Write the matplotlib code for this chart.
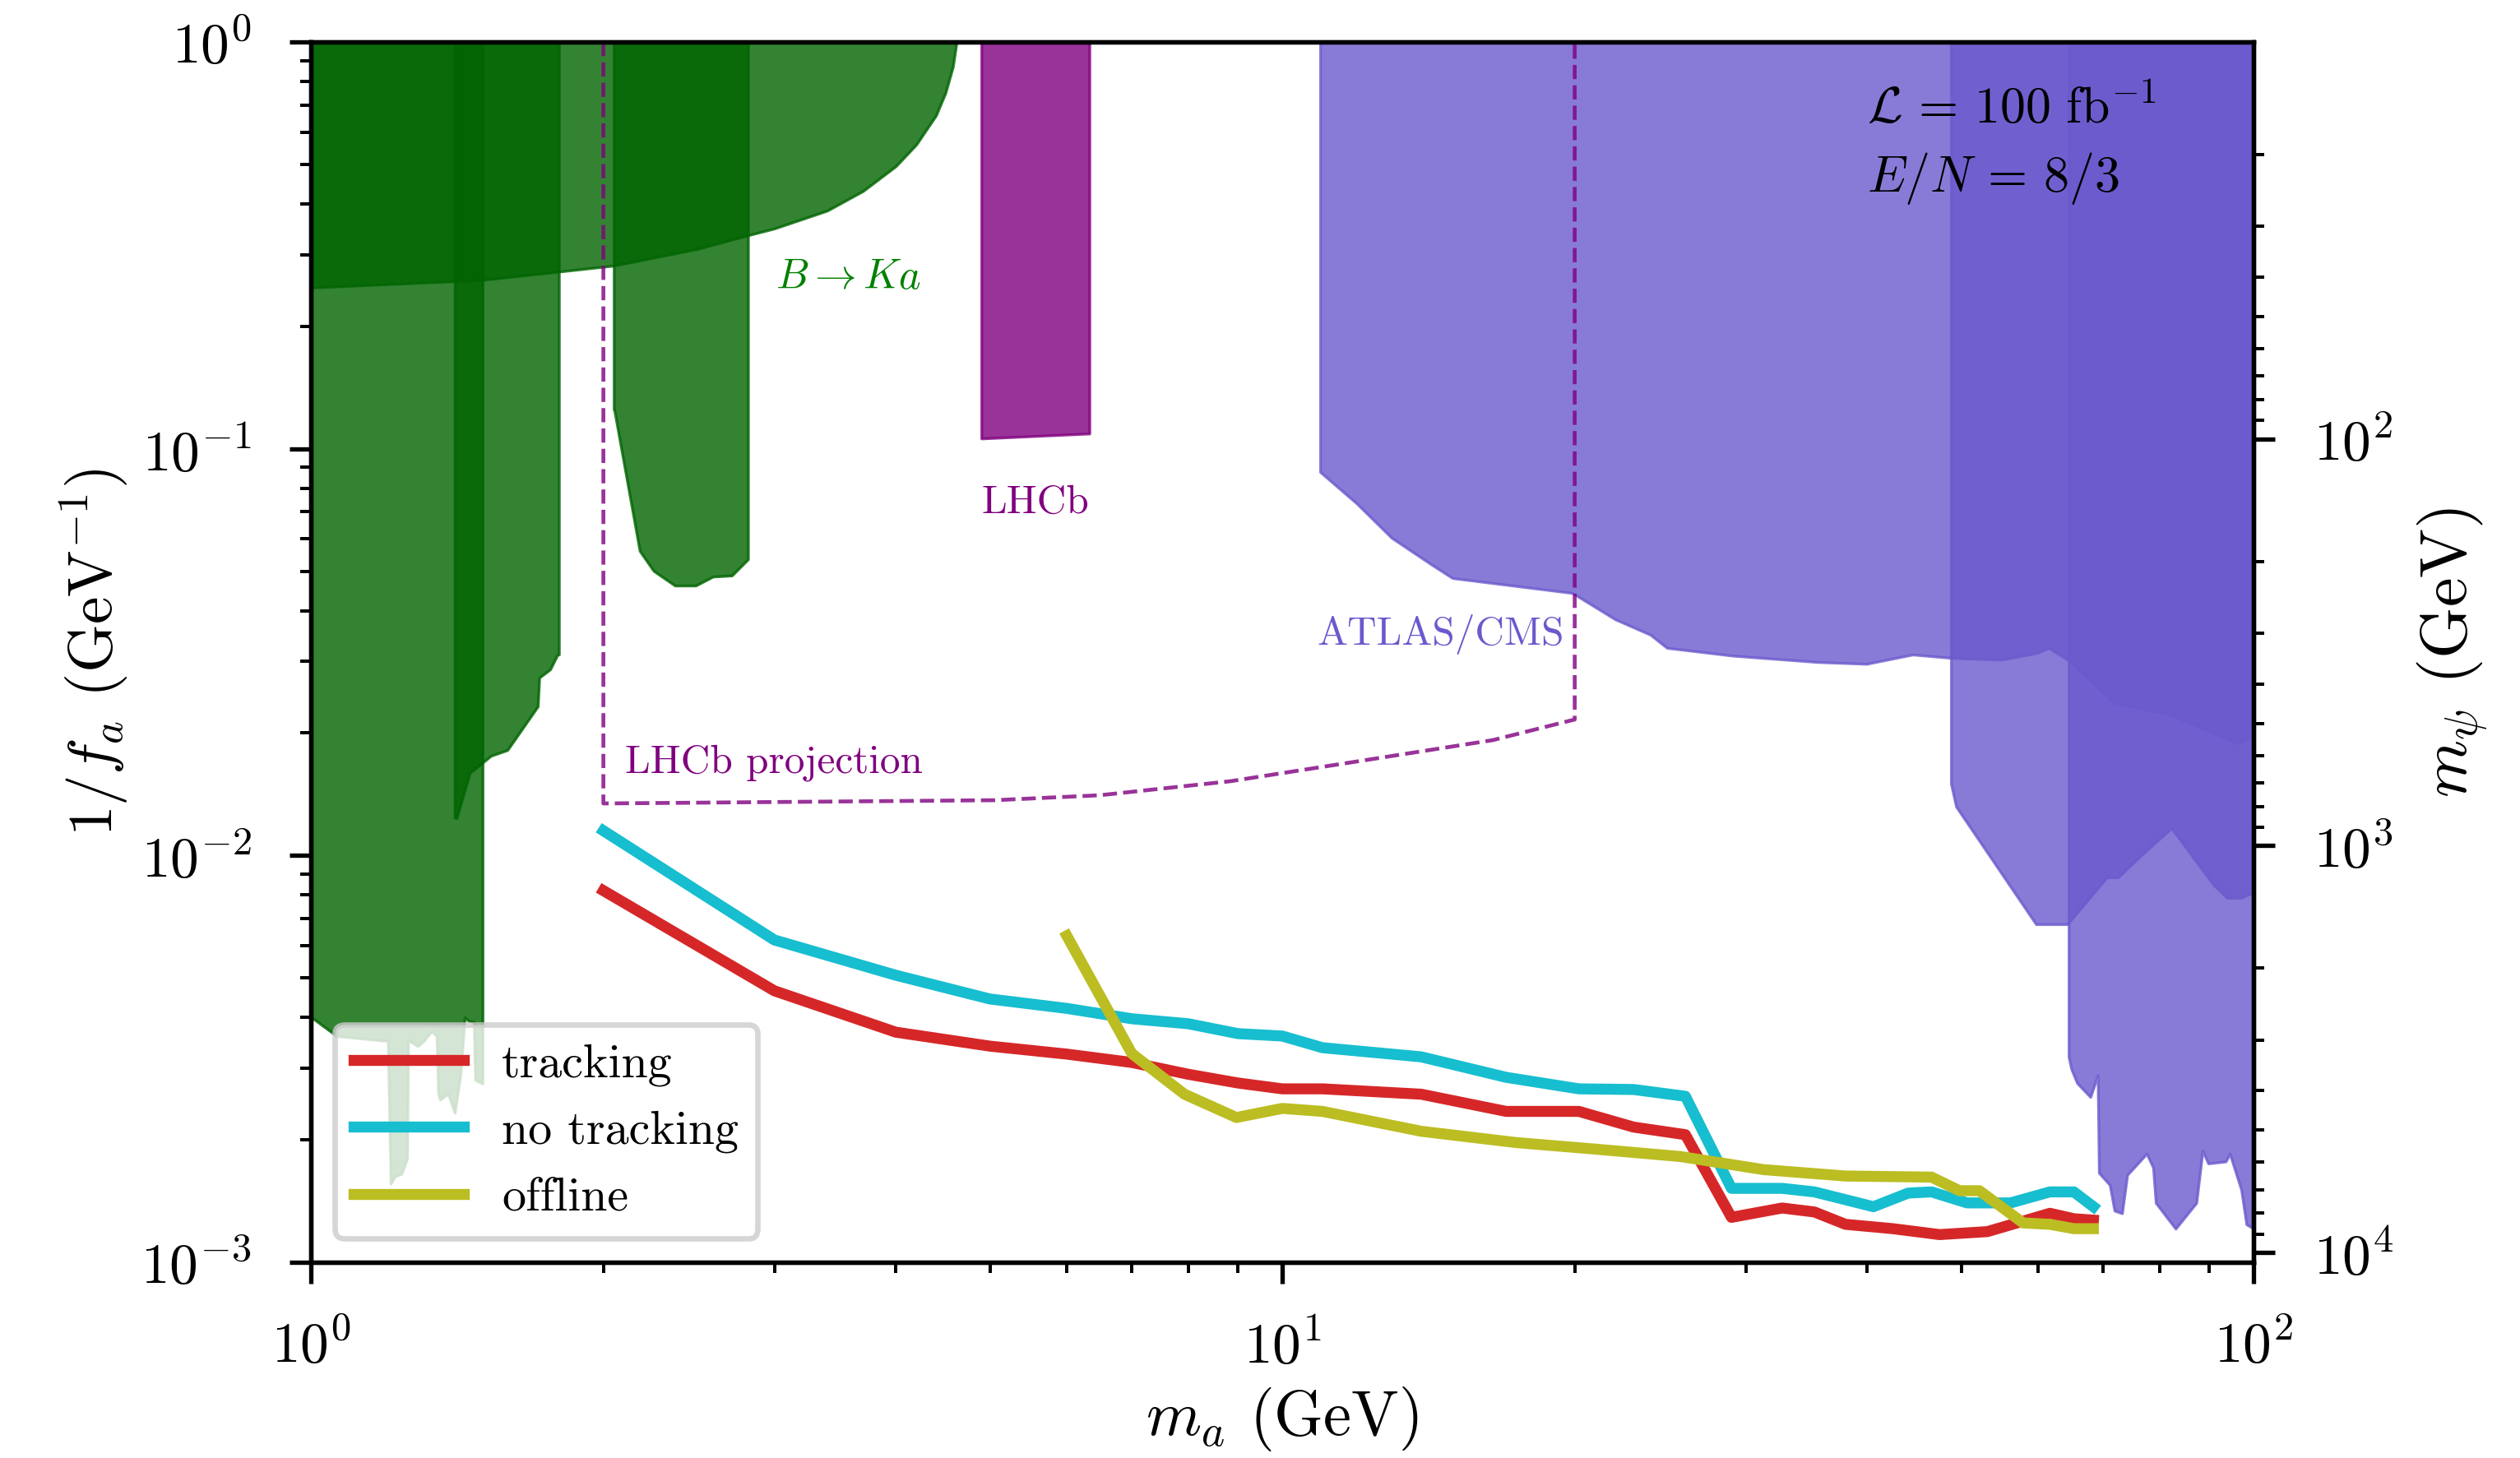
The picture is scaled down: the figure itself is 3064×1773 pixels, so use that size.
import numpy as np
import matplotlib
matplotlib.use("Agg")
import matplotlib.pyplot as plt

plt.rcParams.update({
    "font.family": "serif",
    "font.serif": ["cmr10", "DejaVu Serif"],
    "mathtext.fontset": "cm",
    "axes.formatter.use_mathtext": True,
    "axes.unicode_minus": False,
    "axes.linewidth": 0.8,
})

# ---- excluded regions (x = m_a in GeV, lower edge of 1/f_a) ----
bka_x = [1.0, 1.5, 2.05, 2.5, 2.82, 3.0, 3.4, 3.7, 4.0, 4.2, 4.4, 4.5, 4.58, 4.62]
bka_y = [0.249, 0.260, 0.282, 0.310, 0.335, 0.348, 0.385, 0.43, 0.495, 0.56, 0.66, 0.75, 0.87, 1.0]

grnA_x = [1.0, 1.063, 1.20, 1.208, 1.215, 1.222, 1.239, 1.256, 1.259, 1.288, 1.306,
          1.331, 1.347, 1.352, 1.358, 1.384, 1.406, 1.425, 1.44, 1.453, 1.471, 1.476, 1.502]
grnA_y = [0.00401, 0.0036, 0.0035, 0.00156, 0.0016, 0.00163, 0.00165, 0.0018, 0.00352, 0.0034, 0.0035,
          0.0037, 0.0036, 0.0026, 0.00251, 0.0026, 0.00233, 0.00289, 0.0040, 0.00392, 0.0039, 0.00281, 0.00275]

grnB_x = [1.406, 1.412, 1.457, 1.532, 1.593, 1.712, 1.718, 1.763, 1.794, 1.80]
grnB_y = [0.0124, 0.01235, 0.01596, 0.01759, 0.01817, 0.02327, 0.02738, 0.02869, 0.0312, 0.0312]

grnC_x = [2.05, 2.052, 2.18, 2.253, 2.37, 2.489, 2.593, 2.712, 2.818]
grnC_y = [0.1249, 0.1249, 0.0561, 0.0501, 0.0461, 0.0461, 0.0485, 0.0488, 0.0535]

lhcb_x = [4.90, 6.33]
lhcb_y = [0.106, 0.109]

proj_x = [2.0, 2.0, 5.06, 6.49, 8.84, 12.08, 16.47, 20.0, 20.0]
proj_y = [1.0, 0.01343, 0.01368, 0.01407, 0.01523, 0.01711, 0.01922, 0.0216, 1.0]

atlas1_x = [10.94, 11.92, 12.96, 14.23, 14.97, 19.89, 22.01, 23.93, 24.89, 29.08, 35.6,
            39.95, 44.56, 48.92, 55.0, 59.9, 61.5, 64.5, 71.9, 82.0, 96.4, 100.0]
atlas1_y = [0.0877, 0.0735, 0.0604, 0.0520, 0.0481, 0.0442, 0.0381, 0.0349, 0.0324, 0.0310, 0.0299,
            0.0296, 0.0312, 0.0306, 0.0303, 0.0315, 0.0324, 0.0302, 0.0237, 0.0222, 0.01887, 0.0197]

atlas2_x = [48.8, 49.4, 59.7, 64.3, 70.6, 72.5, 76.3, 82.3, 90.9, 93.9, 97.1, 100.0]
atlas2_y = [0.01502, 0.01319, 0.00678, 0.00678, 0.00884, 0.00884, 0.00993, 0.01168, 0.00848,
            0.00787, 0.00787, 0.00813]

atlas3_x = [64.5, 64.9, 65.8, 67.9, 69.1, 69.3, 71.1, 71.9, 73.2, 74.1, 77.6, 78.8, 79.3,
            83.1, 87.3, 88.6, 89.8, 93.6, 94.5, 97.1, 98.3, 100.0]
atlas3_y = [0.0032, 0.00299, 0.00276, 0.00255, 0.00288, 0.00166, 0.00155, 0.00134, 0.00132,
            0.00164, 0.00185, 0.00171, 0.0014, 0.00121, 0.0014, 0.00188, 0.00175, 0.00177,
            0.00185, 0.00151, 0.00124, 0.00121]

# ---- projected sensitivities ----
trk_x = [2, 3, 4, 5, 6, 7, 8, 9, 10, 11, 13.9, 17, 20.2, 23, 26, 29, 32.7, 35.3, 38,
         42.5, 47.5, 53.2, 61.7, 65.3, 68.4]
trk_y = [0.0082, 0.00465, 0.00368, 0.0034, 0.00325, 0.0031, 0.0029, 0.00276, 0.00267, 0.00267,
         0.00259, 0.00235, 0.00235, 0.00215, 0.00206, 0.00129, 0.00136, 0.00133, 0.00124,
         0.00121, 0.00117, 0.00119, 0.00132, 0.00128, 0.00127]

notrk_x = [2, 3, 4, 5, 6, 7, 8, 9, 10, 11, 13.9, 17, 20.2, 23, 26, 29, 32.7, 35.3, 40.6,
           44.1, 46.6, 50.7, 56.2, 61.7, 65.3, 68.4]
notrk_y = [0.01151, 0.0062, 0.00508, 0.00444, 0.00421, 0.00397, 0.00386, 0.00365, 0.0036,
           0.00337, 0.0032, 0.00285, 0.00267, 0.00266, 0.00256, 0.00152, 0.00152, 0.00149,
           0.00137, 0.00148, 0.00149, 0.0014, 0.0014, 0.00149, 0.00149, 0.00137]

off_x = [6, 7, 7.93, 8.97, 10, 11, 13.9, 17.4, 20.9, 25.7, 31.3, 38, 46.6, 49.8, 52.2,
         57.9, 61.7, 65.3, 68.4]
off_y = [0.00635, 0.00326, 0.00259, 0.00227, 0.00239, 0.00235, 0.0021, 0.00197, 0.0019,
         0.00182, 0.00169, 0.00163, 0.00162, 0.0015, 0.0015, 0.00125, 0.00124, 0.00121, 0.00121]

# m_psi corresponding to 1/f_a = 1 GeV^-1
MPSI_SCALE = 10.57

fig = plt.figure(figsize=(3064 / 480, 1773 / 480), dpi=480)
ax = fig.add_axes([0.1234, 0.1342, 0.7709, 0.837])
ax.set_xscale("log")
ax.set_yscale("log")
ax.set_xlim(1, 100)
ax.set_ylim(1e-3, 1)

green = "darkgreen"
for xs, ys in [(bka_x, bka_y), (grnA_x, grnA_y), (grnB_x, grnB_y), (grnC_x, grnC_y)]:
    ax.fill_between(xs, ys, 1, color=green, alpha=0.8, lw=0.5)

ax.fill_between(lhcb_x, lhcb_y, 1, color="purple", alpha=0.8, lw=0.5)
ax.plot(proj_x, proj_y, ls="--", color="purple", lw=0.7, alpha=0.8)

for xs, ys in [(atlas1_x, atlas1_y), (atlas2_x, atlas2_y), (atlas3_x, atlas3_y)]:
    ax.fill_between(xs, ys, 1, color="slateblue", alpha=0.8, lw=0.5)

ax.plot(trk_x, trk_y, color="tab:red", lw=2, label="tracking")
ax.plot(notrk_x, notrk_y, color="tab:cyan", lw=2, label="no tracking")
ax.plot(off_x, off_y, color="tab:olive", lw=2, label="offline")

ax.text(3.01, 0.2475, r"$B\to Ka$", color="green", fontsize=7.6, va="baseline")
ax.text(4.90, 0.0695, "LHCb", color="purple", fontsize=7.4, va="baseline")
ax.text(2.104, 0.0160, "LHCb projection", color="purple", fontsize=7.4, va="baseline")
ax.text(10.85, 0.033, "ATLAS/CMS", color="slateblue", fontsize=7.4, va="baseline")
ax.text(40.0, 0.631, r"$\mathcal{L}\,=\,100\ \mathrm{fb}^{-1}$", fontsize=9.3, va="baseline")
ax.text(40.0, 0.4286, r"$E/N\,=\,8/3$", fontsize=9.3, va="baseline")

ax.set_xlabel(r"$m_a$ (GeV)", fontsize=11.5, labelpad=2)
ax.set_ylabel(r"$1/f_a$ (GeV$^{-1}$)", fontsize=11.3, labelpad=2)
ax.tick_params(axis="both", which="major", labelsize=10.4, length=3.9, width=0.8)
ax.tick_params(axis="both", which="minor", length=1.9, width=0.6)
ax.tick_params(axis="x", which="major", pad=6.5)
ax.tick_params(axis="y", which="major", pad=7)

leg = ax.legend(loc="lower left", fontsize=8.7, handlelength=2.3)

ax2 = ax.twinx()
ax2.set_yscale("log")
ax2.set_ylim(MPSI_SCALE / 1e-3, MPSI_SCALE / 1.0)
ax2.set_ylabel(r"$m_\psi$ (GeV)", fontsize=12, labelpad=4)
ax2.tick_params(axis="y", which="major", labelsize=10.4, length=3.9, width=0.8, pad=7)
ax2.tick_params(axis="y", which="minor", length=1.9, width=0.6)

fig.savefig("out.png", dpi=480)
